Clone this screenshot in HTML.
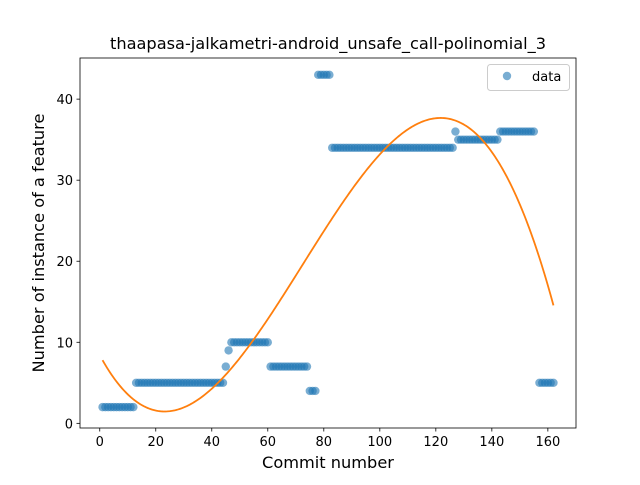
<!DOCTYPE html>
<html><head><meta charset="utf-8"><style>
body{margin:0;background:#fff}
svg text{font-family:"DejaVu Sans","Liberation Sans",sans-serif;fill:#000}
</style></head><body>
<svg id="c" width="640" height="480"></svg>
<script>
const runXStart=[1,13,45,46,47,61,75,78,83,127,128,143,157];
const runXEnd=[12,44,45,46,60,74,77,82,126,127,142,155,162];
const runValues=[2,5,7,9,10,7,4,43,34,36,35,36,5];
const xTicks=[0,20,40,60,80,100,120,140,160];
const yTicks=[0,10,20,30,40];
const NS="http://www.w3.org/2000/svg";
const svg=document.getElementById('c');
const L=80,R=576,T=58,B=428;
const xMin=-7.05,xMax=170.05,yMin=-0.575,yMax=45.075;
const sx=v=>L+(v-xMin)/(xMax-xMin)*(R-L);
const sy=v=>B-(v-yMin)/(yMax-yMin)*(B-T);
function mk(tag,attrs,parent){const e=document.createElementNS(NS,tag);for(const k in attrs)e.setAttribute(k,attrs[k]);(parent||svg).appendChild(e);return e;}
const xs=[],ys=[];
runXStart.forEach((s,i)=>{for(let x=s;x<=runXEnd[i];x++){xs.push(x);ys.push(runValues[i]);}});
const pts=mk('g',{});


xs.forEach((x,i)=>{const c=mk('circle',{cx:sx(x),cy:sy(ys[i]),r:4.2,fill:'#1f77b4','fill-opacity':0.6},pts);

});
const n=xs.length,sc=100;const A=[[0,0,0,0],[0,0,0,0],[0,0,0,0],[0,0,0,0]],bv=[0,0,0,0];
for(let i=0;i<n;i++){const u=xs[i]/sc;const p=[1,u,u*u,u*u*u];for(let a=0;a<4;a++){bv[a]+=p[a]*ys[i];for(let b=0;b<4;b++)A[a][b]+=p[a]*p[b];}}
for(let i=0;i<4;i++){for(let j=i+1;j<4;j++){const f=A[j][i]/A[i][i];for(let k=i;k<4;k++)A[j][k]-=f*A[i][k];bv[j]-=f*bv[i];}}
const co=[0,0,0,0];for(let i=3;i>=0;i--){let s=bv[i];for(let k=i+1;k<4;k++)s-=A[i][k]*co[k];co[i]=s/A[i][i];}
let d='';const x0=xs[0],x1=xs[n-1];
for(let k=0;k<=300;k++){const x=x0+(x1-x0)*k/300,u=x/sc;const y=co[0]+co[1]*u+co[2]*u*u+co[3]*u*u*u;d+=(k?'L':'M')+sx(x).toFixed(2)+','+sy(y).toFixed(2);}
const fl=mk('path',{d:d,fill:'none',stroke:'#ff7f0e','stroke-width':1.8});


const ax=mk('rect',{x:L,y:T,width:R-L,height:B-T,fill:'none',stroke:'#000','stroke-width':0.8});


xTicks.forEach(t=>{mk('line',{x1:sx(t),x2:sx(t),y1:B,y2:B+3.5,stroke:'#000','stroke-width':0.8});
const tx=mk('text',{x:sx(t),y:B+18,'text-anchor':'middle','font-size':'13px'});tx.textContent=t;

});
yTicks.forEach(t=>{mk('line',{x1:L-3.5,x2:L,y1:sy(t),y2:sy(t),stroke:'#000','stroke-width':0.8});
const tx=mk('text',{x:L-7,y:sy(t)+5,'text-anchor':'end','font-size':'13px'});tx.textContent=t;

});
</script>
<svg width="640" height="480" style="position:absolute;left:0;top:0">
<text x="328" y="49" text-anchor="middle" font-size="16.2px">thaapasa-jalkametri-android_unsafe_call-polinomial_3</text>
<text x="328" y="468" text-anchor="middle" font-size="16.2px">Commit number</text>
<text x="0" y="0" transform="translate(44,243) rotate(-90)" text-anchor="middle" font-size="16.2px">Number of instance of a feature</text>
<g>
<rect x="487.5" y="64.5" width="82" height="26" rx="3" fill="#fff" fill-opacity="0.8" stroke="#ccc"/>
<circle cx="507" cy="76" r="4.2" fill="#1f77b4" fill-opacity="0.6"/>
<text x="532" y="81" font-size="13px">data</text>
</g>
</svg>
</body></html>
